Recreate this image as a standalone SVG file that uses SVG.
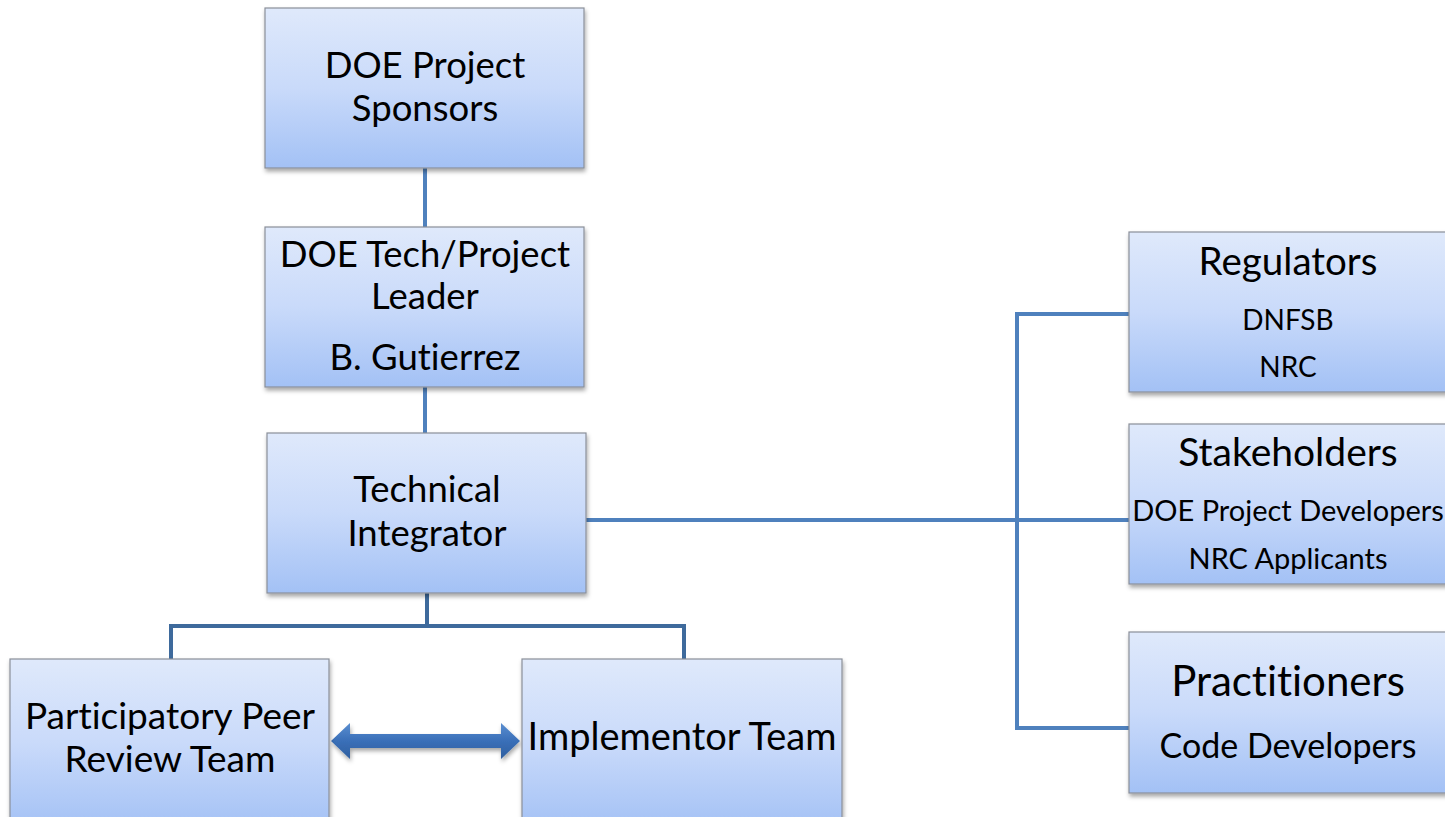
<svg xmlns="http://www.w3.org/2000/svg" width="1445" height="817" viewBox="0 0 1445 817">
<style>
.box{fill:url(#g);stroke:#8a8f99;stroke-width:1.2;filter:url(#sh)}
.t{font-family:Lato,"Open Sans",sans-serif;fill:#000;text-anchor:middle;font-variant-ligatures:none}
.big{font-size:36.5px}
.sm{font-size:28px}
.ln{fill:none;stroke:#4f81bd;stroke-width:4}
.ln2{fill:none;stroke:#3e6a9c;stroke-width:4}
</style>
<defs>
<linearGradient id="g" x1="0" y1="0" x2="0" y2="1">
<stop offset="0" stop-color="#dfe9fb"/>
<stop offset="0.5" stop-color="#c9dafa"/>
<stop offset="1" stop-color="#a3c1f5"/>
</linearGradient>
<linearGradient id="ag" x1="0" y1="0" x2="0" y2="1">
<stop offset="0" stop-color="#5a8ed0"/>
<stop offset="0.5" stop-color="#3a6fb8"/>
<stop offset="1" stop-color="#2f5f9f"/>
</linearGradient>
<filter id="sh" x="-10%" y="-10%" width="120%" height="130%">
<feDropShadow dx="1" dy="3" stdDeviation="2" flood-color="#000" flood-opacity="0.35"/>
</filter>
</defs>
<g id="connectors">
<line class="ln" x1="425" y1="168" x2="425" y2="227"/>
<line class="ln" x1="425" y1="387" x2="425" y2="433"/>
<polyline class="ln2" points="171,659 171,626 684,626 684,659"/>
<line class="ln2" x1="427" y1="593" x2="427" y2="626"/>
<line class="ln" x1="586" y1="520" x2="1129" y2="520"/>
<polyline class="ln" points="1129,314 1017,314 1017,728 1129,728"/>
<path d="M331,741 L350,723 L350,734 L501,734 L501,723 L520,741 L501,759 L501,748 L350,748 L350,759 Z" fill="url(#ag)" filter="url(#sh)"/>
</g>
<g id="sponsors"><rect class="box" x="265" y="8" width="319" height="160"/>
<text class="t big" x="425" y="78">DOE Project</text><text class="t big" x="425" y="121">Sponsors</text></g>
<g id="leader"><rect class="box" x="265" y="227" width="319" height="160"/>
<text class="t big" x="425" y="267">DOE Tech/Project</text><text class="t big" x="425" y="309">Leader</text><text class="t big" x="425" y="370">B. Gutierrez</text></g>
<g id="integrator"><rect class="box" x="267" y="433" width="319" height="160"/>
<text class="t big" x="427" y="502">Technical</text><text class="t big" x="427" y="546">Integrator</text></g>
<g id="peer"><rect class="box" x="10" y="659" width="319" height="170"/>
<text class="t big" x="170" y="729" style="font-size:37px">Participatory Peer</text><text class="t big" x="170" y="772" style="font-size:37px">Review Team</text></g>
<g id="implementor"><rect class="box" x="522" y="659" width="320" height="170"/>
<text class="t big" x="682" y="750" style="font-size:38px">Implementor Team</text></g>
<g id="regulators"><rect class="box" x="1129" y="232" width="320" height="160"/>
<text class="t big" x="1288" y="275" style="font-size:38.5px">Regulators</text><text class="t sm" x="1288" y="330">DNFSB</text><text class="t sm" x="1288" y="377">NRC</text></g>
<g id="stakeholders"><rect class="box" x="1129" y="424" width="320" height="160"/>
<text class="t big" x="1288" y="466" style="font-size:39px">Stakeholders</text><text class="t sm" x="1288" y="521" style="font-size:29px">DOE Project Developers</text><text class="t sm" x="1288" y="569" style="font-size:29px">NRC Applicants</text></g>
<g id="practitioners"><rect class="box" x="1129" y="632" width="320" height="161"/>
<text class="t big" x="1288" y="696" style="font-size:42px">Practitioners</text><text class="t big" x="1288" y="758" style="font-size:34px">Code Developers</text></g>
</svg>
